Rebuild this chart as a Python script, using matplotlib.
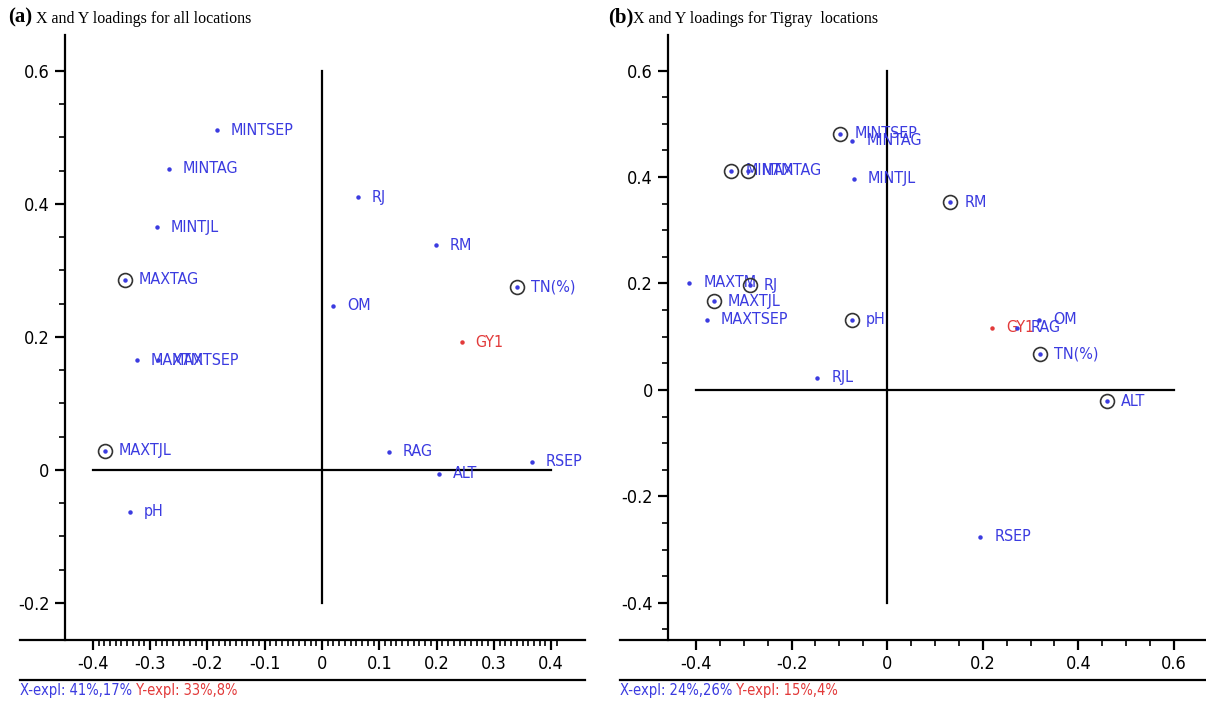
import matplotlib

matplotlib.use("Agg")
import matplotlib.pyplot as plt
from matplotlib import font_manager as fm
from matplotlib.ticker import FixedLocator, FuncFormatter
from matplotlib.lines import Line2D
import numpy as np

plt.rcParams["axes.unicode_minus"] = False

BLUE = "#3b3be0"
RED = "#e23a3a"
SERIF = ["Liberation Serif", "DejaVu Serif"]

# ---------- panel (a): all locations ----------
a_names = ["MINTSEP", "MINTAG", "MINTJL", "MAXTAG", "MAXTM", "MAXTSEP", "MAXTJL", "pH",
           "RJ", "RM", "OM", "TN(%)", "GY1", "RAG", "ALT", "RSEP"]
a_x = [-0.183, -0.267, -0.288, -0.344, -0.323, -0.286, -0.379, -0.335,
       0.063, 0.199, 0.019, 0.340, 0.244, 0.117, 0.204, 0.366]
a_y = [0.511, 0.453, 0.365, 0.286, 0.165, 0.165, 0.029, -0.063,
       0.410, 0.338, 0.247, 0.275, 0.192, 0.027, -0.006, 0.012]
a_circled = ["MAXTAG", "MAXTJL", "TN(%)"]
a_expl = ("X-expl: 41%,17%", "Y-expl: 33%,8%")

# ---------- panel (b): Tigray locations ----------
b_names = ["MINTSEP", "MINTAG", "MINTM", "MAXTAG", "MINTJL", "RM", "MAXTM", "RJ", "MAXTJL",
           "MAXTSEP", "pH", "RJL", "GY1", "RAG", "OM", "TN(%)", "ALT", "RSEP"]
b_x = [-0.098, -0.073, -0.326, -0.291, -0.069, 0.132, -0.414, -0.287, -0.362,
       -0.377, -0.073, -0.146, 0.220, 0.272, 0.318, 0.320, 0.460, 0.195]
b_y = [0.481, 0.468, 0.412, 0.412, 0.397, 0.353, 0.201, 0.197, 0.167,
       0.132, 0.132, 0.023, 0.117, 0.117, 0.132, 0.068, -0.021, -0.276]
b_circled = ["MINTSEP", "MINTM", "MAXTAG", "RM", "RJ", "MAXTJL", "pH", "TN(%)", "ALT"]
b_expl = ("X-expl: 24%,26%", "Y-expl: 15%,4%")


# the original uses a narrow sans; take a condensed face if one is installed
def narrow_font():
    for fam in ["Liberation Sans Narrow", "DejaVu Sans", "Open Sans", "Noto Sans", "Roboto"]:
        for st in ["condensed", "semi-condensed"]:
            try:
                path = fm.findfont(fm.FontProperties(family=fam, stretch=st),
                                   fallback_to_default=False)
            except Exception:
                continue
            low = path.lower()
            if "narrow" in low or "condensed" in low:
                return fm.FontProperties(fname=path), True
    return fm.FontProperties(family="Liberation Sans"), False


NARROW_FP, IS_NARROW = narrow_font()
SCALE = 1.0 if IS_NARROW else 0.85

W, H = 1206, 709
fig = plt.figure(figsize=(W / 100, H / 100), dpi=100)


def fmt(v, pos):
    if abs(v) < 1e-9:
        return "0"
    return f"{v:g}"


def nfp(size):
    fp = NARROW_FP.copy()
    fp.set_size(size * SCALE)
    return fp


def panel(rect, xlim, ylim, spine_x, xmajor, xminor, xminr, yminr, hline, vline,
          names, xs, ys, circled, expl, tag, title):
    x0, y0, w, h = rect
    ax = fig.add_axes([x0 / W, 1 - (y0 + h) / H, w / W, h / H])
    for s in ("top", "right"):
        ax.spines[s].set_visible(False)
    ax.spines["left"].set_position(("data", spine_x))
    ax.spines["left"].set_linewidth(1.6)
    ax.spines["bottom"].set_linewidth(1.6)

    ax.xaxis.set_major_locator(FixedLocator(np.arange(hline[0], hline[1] + 1e-6, xmajor)))
    ax.xaxis.set_minor_locator(FixedLocator(np.arange(xminr[0], xminr[1] + 1e-6, xminor)))
    ax.yaxis.set_major_locator(FixedLocator(np.arange(vline[0], vline[1] + 1e-6, 0.2)))
    ax.yaxis.set_minor_locator(FixedLocator(np.arange(yminr[0], yminr[1] + 1e-6, 0.05)))
    ax.xaxis.set_major_formatter(FuncFormatter(fmt))
    ax.yaxis.set_major_formatter(FuncFormatter(fmt))
    ax.tick_params(which="major", length=7, width=1.6, pad=4)
    ax.tick_params(which="minor", length=4, width=1.2)
    ax.set_xlim(*xlim)
    ax.set_ylim(*ylim)
    for lab in ax.get_xticklabels() + ax.get_yticklabels():
        lab.set_fontproperties(nfp(13))

    ax.plot(hline, [0, 0], color="black", lw=1.6, zorder=1)
    ax.plot([0, 0], vline, color="black", lw=1.6, zorder=1)

    for n, x, y in zip(names, xs, ys):
        col = RED if n == "GY1" else BLUE
        ax.plot(x, y, "o", ms=2.2, color=col, zorder=3)
        if n in circled:
            ax.plot(x, y, "o", ms=10, mfc="none", mec="#333333", mew=1.2, zorder=3)
        ax.annotate(n, (x, y), xytext=(10, 0), textcoords="offset points",
                    va="center", ha="left", color=col, fontproperties=nfp(11.5))

    # second rule below the tick labels
    yb = -40 / h
    ax.add_line(Line2D([0, 1], [yb, yb], transform=ax.transAxes, color="black",
                       lw=1.6, clip_on=False))

    t1 = fig.text(x0 / W, 1 - 691 / H, expl[0], color=BLUE, va="center",
                  fontproperties=nfp(10.5))
    ax.annotate(" " + expl[1], xy=(1, 0.5), xycoords=t1, va="center", color=RED,
                fontproperties=nfp(10.5))

    tt = fig.text((x0 - 12) / W, 1 - 22 / H, tag, fontsize=15, weight="bold",
                  family=SERIF, va="baseline")
    ax.annotate(title, xy=(1, 0), xycoords=tt, va="bottom", fontsize=11.5,
                family=SERIF)
    return ax


panel((20, 35, 565, 605), (-0.527, 0.459), (-0.256, 0.654), -0.449, 0.1, 0.01,
      (-0.4, 0.41), (-0.2, 0.6), [-0.4, 0.4], [-0.2, 0.6],
      a_names, a_x, a_y, a_circled, a_expl,
      "(a)", " X and Y loadings for all locations")
panel((620, 35, 586, 605), (-0.559, 0.667), (-0.470, 0.667), -0.458, 0.2, 0.05,
      (-0.4, 0.6), (-0.45, 0.6), [-0.4, 0.6], [-0.4, 0.6],
      b_names, b_x, b_y, b_circled, b_expl,
      "(b)", "X and Y loadings for Tigray  locations")

fig.savefig("out.png", dpi=100)
